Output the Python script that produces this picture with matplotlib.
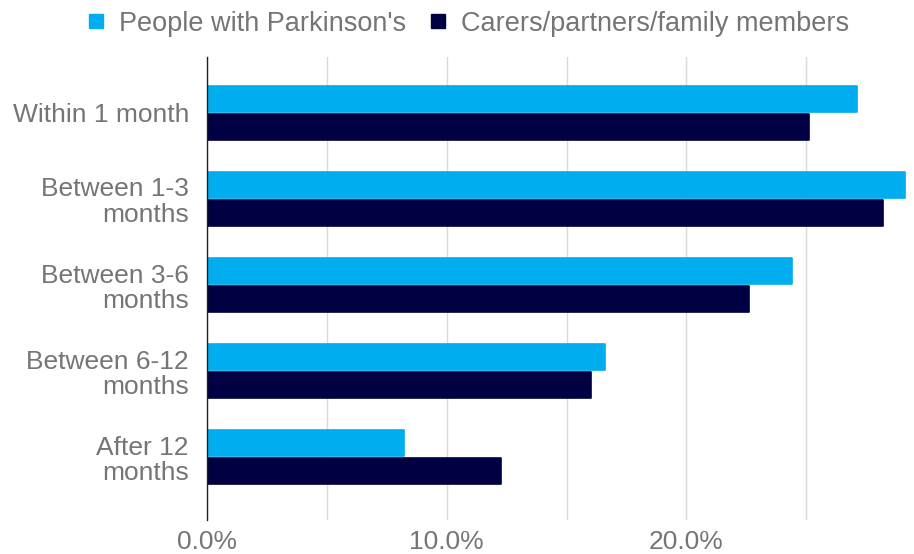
import matplotlib.pyplot as plt
from matplotlib.lines import Line2D
from matplotlib.ticker import FixedLocator, FuncFormatter

plt.rcParams['font.family'] = ['Liberation Sans', 'DejaVu Sans']

categories = ["Within 1 month", "Between 1-3\nmonths", "Between 3-6\nmonths",
              "Between 6-12\nmonths", "After 12\nmonths"]
people = [27.1, 29.1, 24.4, 16.6, 8.2]
carers = [25.1, 28.2, 22.6, 16.0, 12.25]
series_names = ["People with Parkinson's", "Carers/partners/family members"]

light = "#00ADEE"
dark = "#000042"
grey = "#757575"

fig = plt.figure(figsize=(9.14, 5.54), dpi=100)
ax = fig.add_axes([0.2265, 0.0614, 0.7658, 0.8357])

y = list(range(len(categories)))
h = 0.30
off = 0.163
ax.barh([v - off for v in y], people, height=h, color=light,
        edgecolor=light, linewidth=1.2, joinstyle='round', zorder=3)
ax.barh([v + off for v in y], carers, height=h, color=dark,
        edgecolor=dark, linewidth=1.2, joinstyle='round', zorder=3)

ax.set_xlim(0, 29.2)
ax.set_ylim(4.73, -0.65)
ax.set_yticks(y)
ax.set_yticklabels(categories, fontsize=19, color=grey, linespacing=1.08)

ax.xaxis.set_major_locator(FixedLocator([0, 10, 20]))
ax.xaxis.set_minor_locator(FixedLocator([5, 15, 25]))
ax.xaxis.set_major_formatter(FuncFormatter(lambda v, p: f"{v:.1f}%"))
ax.tick_params(axis='x', which='both', length=0, labelsize=19, labelcolor=grey, pad=7)
ax.tick_params(axis='y', length=0, pad=13)
ax.grid(axis='x', which='both', color="#DADADA", linewidth=1, zorder=0)

for s in ["top", "right", "bottom"]:
    ax.spines[s].set_visible(False)
ax.spines["left"].set_color("#222222")
ax.spines["left"].set_linewidth(1)
ax.spines["left"].set_zorder(4)

handles = [Line2D([], [], marker='s', linestyle='none', markersize=10,
                  markerfacecolor=c, markeredgecolor=c) for c in (light, dark)]
fig.legend(handles, series_names, loc='upper center', bbox_to_anchor=(0.511, 1.025),
           ncol=2, frameon=False, fontsize=19.5, labelcolor=grey,
           handlelength=0.8, handletextpad=0.45, columnspacing=0.77)

fig.savefig("out.png", dpi=100)
